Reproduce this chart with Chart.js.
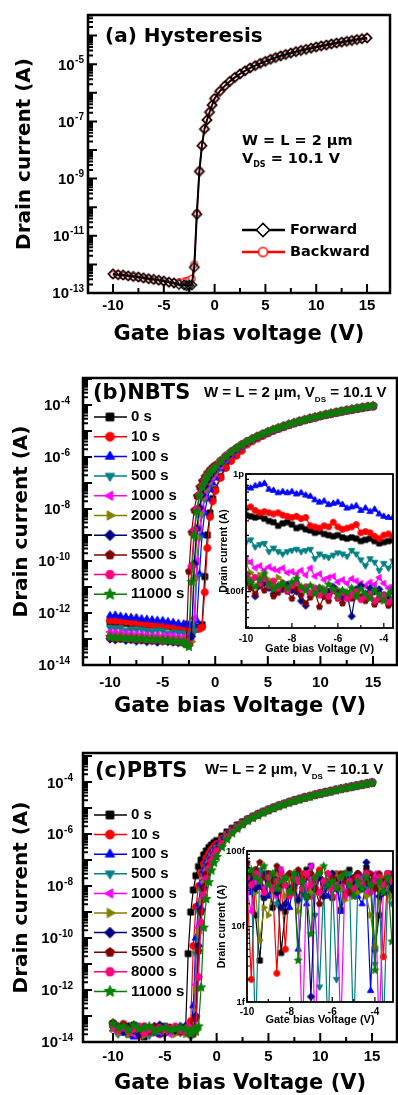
<!DOCTYPE html>
<html>
<head>
<meta charset="utf-8">
<script src="https://cdn.jsdelivr.net/npm/chart.js"></script>
<style>
html, body { margin: 0; padding: 0; background: #fff; }
body { width: 398px; height: 1095px; position: relative; overflow: hidden; }
canvas { position: absolute; }
</style>
</head>
<body>
<canvas id="hyst" width="398" height="350" style="left:0;top:0"></canvas>
<canvas id="nbts" width="398" height="370" style="left:0;top:350px"></canvas>
<canvas id="pbts" width="398" height="375" style="left:0;top:720px"></canvas>
<canvas id="nbtsInset" width="193" height="200" style="left:205px;top:460px"></canvas>
<canvas id="pbtsInset" width="193" height="195" style="left:205px;top:835px"></canvas>
<script>
// gate voltage sweep used by the three big panels (V)
const gateV = [-10,-9.5,-9,-8.5,-8,-7.5,-7,-6.5,-6,-5.5,-5,-4.5,-4,-3.5,
  -3,-2.75,-2.5,-2.25,-2,-1.75,-1.5,-1.25,-1,-0.75,-0.5,-0.25,0,0.5,1,1.5,2,2.5,
  3,3.5,4,4.5,5,5.5,6,6.5,7,7.5,8,8.5,9,9.5,10,10.5,11,11.5,12,12.5,13,13.5,14,14.5,15];

// drain current, stored as log10(I / A)
// (a) hysteresis
const hystForward = [-12.33,-12.36,-12.37,-12.40,-12.42,-12.44,-12.47,-12.50,-12.52,-12.55,-12.58,-12.62,-12.65,-12.70,
  -12.72,-12.74,-12.73,-12.72,-12.10,-10.25,-8.75,-7.85,-7.27,-6.95,-6.68,-6.43,-6.20,-5.95,-5.76,-5.60,-5.46,-5.34,
  -5.23,-5.13,-5.05,-4.97,-4.90,-4.83,-4.77,-4.71,-4.66,-4.61,-4.56,-4.52,-4.48,-4.44,-4.40,-4.36,-4.33,-4.29,-4.26,-4.23,-4.20,-4.17,-4.14,-4.11,-4.08];
const hystBackward = [-12.36,-12.35,-12.40,-12.41,-12.44,-12.45,-12.49,-12.50,-12.55,-12.56,-12.60,-12.62,-12.64,-12.62,
  -12.60,-12.58,-12.55,-12.50,-12.00,-10.20,-8.72,-7.83,-7.25,-6.93,-6.66,-6.41,-6.18,-5.94,-5.75,-5.59,-5.45,-5.33,
  -5.22,-5.12,-5.04,-4.96,-4.89,-4.82,-4.76,-4.70,-4.65,-4.60,-4.56,-4.51,-4.47,-4.43,-4.39,-4.36,-4.32,-4.29,-4.26,-4.22,-4.19,-4.16,-4.13,-4.11,-4.08];

const stressTimes = ['0 s','10 s','100 s','500 s','1000 s','2000 s','3500 s','5500 s','8000 s','11000 s'];

// (b) NBTS
const nbts0s = [-12.35,-12.37,-12.36,-12.40,-12.42,-12.41,-12.45,-12.47,-12.46,-12.50,-12.52,-12.51,-12.55,-12.57,
  -12.58,-12.60,-12.59,-12.61,-12.60,-12.58,-12.55,-12.45,-10.60,-9.00,-8.15,-7.60,-7.25,-6.75,-6.38,-6.10,-5.90,-5.70,
  -5.47,-5.35,-5.25,-5.15,-5.06,-4.97,-4.90,-4.83,-4.76,-4.70,-4.63,-4.58,-4.52,-4.47,-4.42,-4.38,-4.33,-4.29,-4.24,-4.21,-4.17,-4.14,-4.10,-4.07,-4.04];
const nbts10s = [-12.29,-12.30,-12.32,-12.33,-12.36,-12.37,-12.40,-12.42,-12.45,-12.44,-12.47,-12.50,-12.52,-12.55,
  -12.55,-12.57,-12.58,-12.60,-12.60,-12.62,-12.60,-12.55,-11.20,-9.50,-8.30,-7.70,-7.30,-6.80,-6.42,-6.15,-5.95,-5.76,
  -5.52,-5.40,-5.29,-5.19,-5.09,-5.00,-4.92,-4.84,-4.77,-4.70,-4.64,-4.58,-4.53,-4.48,-4.43,-4.38,-4.34,-4.29,-4.25,-4.21,-4.17,-4.14,-4.11,-4.07,-4.05];
const nbts100s = [-12.10,-12.08,-12.12,-12.15,-12.17,-12.18,-12.22,-12.24,-12.26,-12.28,-12.29,-12.33,-12.36,-12.40,
  -12.42,-12.44,-12.45,-12.47,-12.45,-12.30,-10.50,-9.00,-8.15,-7.60,-7.25,-7.00,-6.80,-6.45,-6.15,-5.93,-5.75,-5.60,
  -5.43,-5.32,-5.22,-5.13,-5.04,-4.96,-4.89,-4.82,-4.75,-4.69,-4.63,-4.57,-4.52,-4.47,-4.42,-4.37,-4.33,-4.28,-4.24,-4.20,-4.17,-4.13,-4.10,-4.07,-4.04];
const nbts500s = [-12.56,-12.58,-12.57,-12.67,-12.62,-12.64,-12.63,-12.68,-12.70,-12.66,-12.68,-12.78,-12.74,-12.76,
  -12.77,-12.80,-12.82,-12.85,-12.70,-10.60,-9.10,-8.20,-7.60,-7.25,-7.00,-6.80,-6.65,-6.37,-6.10,-5.90,-5.73,-5.58,
  -5.43,-5.32,-5.22,-5.13,-5.04,-4.96,-4.89,-4.82,-4.75,-4.69,-4.63,-4.57,-4.52,-4.47,-4.42,-4.37,-4.33,-4.28,-4.24,-4.20,-4.17,-4.13,-4.10,-4.07,-4.04];
const nbts1000s = [-12.73,-12.75,-12.76,-12.79,-12.80,-12.82,-12.83,-12.85,-12.87,-12.86,-12.88,-12.87,-12.88,-12.92,
  -12.93,-12.95,-12.98,-13.00,-12.20,-10.00,-8.75,-8.00,-7.50,-7.15,-6.92,-6.74,-6.60,-6.33,-6.07,-5.88,-5.71,-5.57,
  -5.43,-5.32,-5.22,-5.13,-5.04,-4.96,-4.89,-4.82,-4.75,-4.69,-4.63,-4.57,-4.52,-4.47,-4.42,-4.37,-4.33,-4.28,-4.24,-4.20,-4.17,-4.13,-4.10,-4.07,-4.04];
const nbts2000s = [-12.88,-12.92,-12.90,-12.95,-12.93,-12.97,-12.96,-13.00,-12.98,-13.02,-13.00,-13.04,-13.03,-13.05,
  -13.06,-13.08,-13.10,-13.10,-10.70,-9.10,-8.20,-7.60,-7.25,-7.00,-6.80,-6.65,-6.52,-6.28,-6.04,-5.86,-5.70,-5.56,
  -5.43,-5.32,-5.22,-5.13,-5.04,-4.96,-4.89,-4.82,-4.75,-4.69,-4.63,-4.57,-4.52,-4.47,-4.42,-4.37,-4.33,-4.28,-4.24,-4.20,-4.17,-4.13,-4.10,-4.07,-4.04];
const nbts3500s = [-13.00,-13.03,-12.98,-13.05,-13.02,-13.08,-13.04,-13.10,-13.06,-13.12,-13.08,-13.10,-13.12,-13.14,
  -13.15,-13.18,-13.20,-12.90,-10.10,-8.75,-7.95,-7.45,-7.12,-6.90,-6.72,-6.58,-6.46,-6.24,-6.02,-5.85,-5.69,-5.55,
  -5.43,-5.32,-5.22,-5.13,-5.04,-4.96,-4.89,-4.82,-4.75,-4.69,-4.63,-4.57,-4.52,-4.47,-4.42,-4.37,-4.33,-4.28,-4.24,-4.20,-4.17,-4.13,-4.10,-4.07,-4.04];
const nbts5500s = [-12.95,-12.98,-13.00,-12.97,-13.02,-13.00,-13.05,-13.03,-13.07,-13.05,-13.08,-13.06,-13.10,-13.12,
  -13.14,-13.20,-10.40,-8.90,-8.05,-7.50,-7.15,-6.92,-6.75,-6.60,-6.48,-6.38,-6.30,-6.12,-5.94,-5.78,-5.64,-5.51,
  -5.40,-5.30,-5.20,-5.11,-5.03,-4.95,-4.88,-4.81,-4.75,-4.68,-4.62,-4.57,-4.51,-4.46,-4.41,-4.37,-4.32,-4.28,-4.24,-4.20,-4.16,-4.13,-4.09,-4.06,-4.03];
const nbts8000s = [-12.90,-12.93,-12.92,-12.96,-12.95,-12.99,-12.97,-13.00,-13.02,-13.01,-13.05,-13.04,-13.06,-13.08,
  -13.10,-13.15,-13.20,-10.20,-8.80,-8.00,-7.45,-7.12,-6.90,-6.72,-6.58,-6.47,-6.38,-6.17,-5.97,-5.80,-5.66,-5.53,
  -5.40,-5.30,-5.20,-5.11,-5.03,-4.95,-4.88,-4.81,-4.75,-4.68,-4.62,-4.57,-4.51,-4.46,-4.41,-4.37,-4.32,-4.28,-4.24,-4.20,-4.16,-4.13,-4.09,-4.06,-4.03];
const nbts11000s = [-12.92,-12.95,-12.94,-12.98,-12.97,-13.00,-12.99,-13.02,-13.01,-13.04,-13.03,-13.06,-13.07,-13.09,
  -13.12,-13.20,-13.30,-10.80,-9.00,-8.10,-7.50,-7.15,-6.92,-6.74,-6.60,-6.48,-6.38,-6.18,-5.98,-5.81,-5.67,-5.54,
  -5.41,-5.31,-5.21,-5.12,-5.03,-4.95,-4.88,-4.81,-4.75,-4.68,-4.62,-4.57,-4.51,-4.46,-4.41,-4.37,-4.32,-4.28,-4.24,-4.20,-4.16,-4.13,-4.09,-4.06,-4.03];

// (c) PBTS
const pbts0s = [-13.30,-13.60,-13.40,-13.70,-13.35,-13.55,-13.80,-13.45,-13.50,-13.65,-13.40,-13.60,-13.50,-13.55,
  -13.60,-10.60,-9.00,-8.15,-7.60,-7.25,-7.00,-6.80,-6.65,-6.52,-6.42,-6.33,-6.25,-6.08,-5.92,-5.78,-5.65,-5.53,
  -5.42,-5.32,-5.22,-5.13,-5.05,-4.97,-4.90,-4.83,-4.76,-4.70,-4.64,-4.58,-4.53,-4.48,-4.43,-4.38,-4.34,-4.29,-4.25,-4.21,-4.17,-4.13,-4.09,-4.05,-4.01];
const pbts10s = [-13.40,-13.55,-13.30,-13.60,-13.50,-13.75,-13.40,-13.60,-13.45,-13.70,-13.50,-13.45,-13.60,-13.50,
  -13.50,-13.60,-13.20,-10.30,-8.80,-8.00,-7.50,-7.15,-6.92,-6.75,-6.60,-6.48,-6.38,-6.18,-5.99,-5.83,-5.69,-5.56,
  -5.45,-5.34,-5.24,-5.15,-5.07,-4.99,-4.91,-4.84,-4.77,-4.71,-4.65,-4.59,-4.54,-4.49,-4.44,-4.39,-4.35,-4.30,-4.26,-4.22,-4.18,-4.14,-4.10,-4.06,-4.02];
const pbts100s = [-13.50,-13.40,-13.65,-13.50,-13.80,-13.45,-13.60,-13.55,-13.40,-13.70,-13.55,-13.50,-13.45,-13.60,
  -13.40,-13.70,-13.60,-12.60,-10.00,-8.70,-7.90,-7.40,-7.08,-6.86,-6.70,-6.56,-6.45,-6.23,-6.02,-5.85,-5.70,-5.57,
  -5.45,-5.34,-5.24,-5.15,-5.07,-4.99,-4.91,-4.84,-4.77,-4.71,-4.65,-4.59,-4.54,-4.49,-4.44,-4.39,-4.35,-4.30,-4.26,-4.22,-4.18,-4.14,-4.10,-4.06,-4.02];
const pbts500s = [-13.45,-13.70,-13.50,-13.60,-13.40,-13.65,-13.55,-13.75,-13.50,-13.45,-13.70,-13.60,-13.55,-13.65,
  -13.60,-13.50,-13.80,-13.40,-10.60,-9.00,-8.15,-7.60,-7.25,-7.00,-6.80,-6.65,-6.52,-6.28,-6.05,-5.87,-5.72,-5.58,
  -5.45,-5.34,-5.24,-5.15,-5.07,-4.99,-4.91,-4.84,-4.77,-4.71,-4.65,-4.59,-4.54,-4.49,-4.44,-4.39,-4.35,-4.30,-4.26,-4.22,-4.18,-4.14,-4.10,-4.06,-4.02];
const pbts1000s = [-13.35,-13.60,-13.50,-13.45,-13.70,-13.55,-13.40,-13.65,-13.50,-13.60,-13.45,-13.70,-13.55,-13.50,
  -13.50,-13.70,-13.60,-13.50,-11.80,-9.60,-8.50,-7.85,-7.40,-7.10,-6.88,-6.70,-6.57,-6.31,-6.07,-5.89,-5.73,-5.59,
  -5.45,-5.34,-5.24,-5.15,-5.07,-4.99,-4.91,-4.84,-4.77,-4.71,-4.65,-4.59,-4.54,-4.49,-4.44,-4.39,-4.35,-4.30,-4.26,-4.22,-4.18,-4.14,-4.10,-4.06,-4.02];
const pbts2000s = [-13.50,-13.65,-13.55,-13.70,-13.45,-13.60,-13.75,-13.50,-13.65,-13.55,-13.60,-13.50,-13.70,-13.60,
  -13.70,-13.60,-13.50,-13.60,-12.00,-9.80,-8.60,-7.90,-7.45,-7.13,-6.90,-6.72,-6.58,-6.32,-6.08,-5.89,-5.73,-5.59,
  -5.45,-5.34,-5.24,-5.15,-5.07,-4.99,-4.91,-4.84,-4.77,-4.71,-4.65,-4.59,-4.54,-4.49,-4.44,-4.39,-4.35,-4.30,-4.26,-4.22,-4.18,-4.14,-4.10,-4.06,-4.02];
const pbts3500s = [-13.30,-13.50,-13.60,-13.40,-13.55,-13.70,-13.45,-13.50,-13.60,-13.35,-13.65,-13.50,-13.55,-13.40,
  -13.40,-13.50,-13.70,-13.60,-13.00,-10.30,-8.90,-8.05,-7.55,-7.20,-6.95,-6.76,-6.61,-6.34,-6.09,-5.90,-5.74,-5.60,
  -5.45,-5.34,-5.24,-5.15,-5.07,-4.99,-4.91,-4.84,-4.77,-4.71,-4.65,-4.59,-4.54,-4.49,-4.44,-4.39,-4.35,-4.30,-4.26,-4.22,-4.18,-4.14,-4.10,-4.06,-4.02];
const pbts5500s = [-13.25,-13.45,-13.35,-13.50,-13.40,-13.55,-13.45,-13.60,-13.40,-13.50,-13.55,-13.45,-13.50,-13.60,
  -13.50,-13.60,-13.40,-13.70,-13.10,-10.50,-9.00,-8.10,-7.58,-7.22,-6.97,-6.78,-6.62,-6.35,-6.10,-5.90,-5.74,-5.60,
  -5.45,-5.34,-5.24,-5.15,-5.07,-4.99,-4.91,-4.84,-4.77,-4.71,-4.65,-4.59,-4.54,-4.49,-4.44,-4.39,-4.35,-4.30,-4.26,-4.22,-4.18,-4.14,-4.10,-4.06,-4.02];
const pbts8000s = [-13.40,-13.55,-13.45,-13.60,-13.50,-13.40,-13.65,-13.50,-13.55,-13.45,-13.60,-13.50,-13.40,-13.55,
  -13.60,-13.40,-13.60,-13.50,-13.50,-11.50,-9.40,-8.35,-7.72,-7.32,-7.04,-6.83,-6.66,-6.38,-6.12,-5.92,-5.75,-5.61,
  -5.47,-5.36,-5.26,-5.16,-5.08,-5.00,-4.92,-4.85,-4.78,-4.72,-4.66,-4.60,-4.55,-4.50,-4.45,-4.40,-4.36,-4.31,-4.27,-4.23,-4.19,-4.15,-4.11,-4.07,-4.03];
const pbts11000s = [-13.30,-13.45,-13.40,-13.55,-13.35,-13.50,-13.45,-13.40,-13.60,-13.50,-13.45,-13.55,-13.50,-13.45,
  -13.50,-13.60,-13.70,-13.50,-13.60,-13.40,-11.90,-9.60,-8.50,-7.85,-7.40,-7.10,-6.88,-6.50,-6.20,-5.97,-5.79,-5.63,
  -5.49,-5.38,-5.28,-5.18,-5.09,-5.01,-4.93,-4.86,-4.79,-4.73,-4.67,-4.61,-4.56,-4.50,-4.46,-4.41,-4.36,-4.32,-4.27,-4.23,-4.19,-4.15,-4.11,-4.07,-4.03];

// insets: off-state current, -10 V to -3.2 V
const insetV = [-10,-9.8,-9.6,-9.4,-9.2,-9,-8.8,-8.6,-8.4,-8.2,-8,-7.8,-7.6,-7.4,-7.2,-7,-6.8,-6.6,-6.4,-6.2,
  -6,-5.8,-5.6,-5.4,-5.2,-5,-4.8,-4.6,-4.4,-4.2,-4,-3.8,-3.6,-3.4,-3.2];

const nbtsInset0s = [-12.35,-12.36,-12.37,-12.36,-12.38,-12.40,-12.41,-12.44,-12.42,-12.41,-12.43,-12.46,-12.45,-12.47,-12.48,-12.50,-12.49,-12.51,-12.52,-12.53,-12.52,-12.54,-12.55,-12.54,-12.55,-12.57,-12.56,-12.55,-12.57,-12.59,-12.58,-12.57,-12.56,-12.57,-12.58];
const nbtsInset10s = [-12.29,-12.28,-12.31,-12.33,-12.32,-12.33,-12.34,-12.33,-12.35,-12.36,-12.37,-12.36,-12.38,-12.37,-12.44,-12.45,-12.46,-12.44,-12.45,-12.41,-12.45,-12.47,-12.46,-12.45,-12.43,-12.50,-12.49,-12.50,-12.53,-12.55,-12.52,-12.51,-12.53,-12.55,-12.58];
const nbtsInset100s = [-12.11,-12.12,-12.10,-12.09,-12.08,-12.13,-12.14,-12.16,-12.15,-12.16,-12.15,-12.17,-12.16,-12.18,-12.19,-12.22,-12.24,-12.23,-12.26,-12.25,-12.24,-12.26,-12.29,-12.28,-12.27,-12.31,-12.29,-12.32,-12.30,-12.34,-12.36,-12.37,-12.37,-12.38,-12.41];
const nbtsInset500s = [-12.58,-12.56,-12.62,-12.60,-12.59,-12.66,-12.63,-12.66,-12.68,-12.66,-12.65,-12.64,-12.66,-12.65,-12.64,-12.72,-12.68,-12.70,-12.71,-12.69,-12.67,-12.68,-12.70,-12.65,-12.68,-12.73,-12.78,-12.72,-12.75,-12.82,-12.76,-12.80,-12.74,-12.80,-12.76];
const nbtsInset1000s = [-12.72,-12.75,-12.80,-12.78,-12.82,-12.79,-12.81,-12.82,-12.80,-12.84,-12.83,-12.85,-12.82,-12.86,-12.80,-12.87,-12.85,-12.90,-12.88,-12.87,-12.92,-12.90,-12.93,-12.89,-12.91,-12.93,-12.95,-12.92,-12.94,-12.88,-12.93,-12.97,-12.95,-12.98,-12.99];
const nbtsInset2000s = [-12.76,-12.84,-12.88,-12.86,-12.92,-12.90,-12.95,-12.88,-12.92,-12.99,-12.94,-12.97,-12.96,-12.99,-13.02,-12.98,-13.01,-12.97,-13.03,-13.00,-12.98,-13.04,-13.02,-13.00,-13.05,-13.03,-13.06,-13.02,-13.08,-13.04,-13.07,-13.05,-13.10,-13.06,-13.12];
const nbtsInset3500s = [-12.85,-12.92,-13.04,-12.95,-12.93,-12.97,-13.02,-12.96,-12.98,-12.94,-12.99,-13.00,-13.08,-13.12,-13.02,-13.00,-12.97,-13.04,-13.00,-12.96,-13.01,-13.05,-13.02,-13.21,-12.98,-12.95,-13.02,-12.97,-13.00,-12.98,-13.03,-13.05,-13.00,-13.02,-12.97];
const nbtsInset5500s = [-12.93,-12.97,-13.02,-12.95,-12.99,-12.94,-13.04,-13.01,-12.96,-13.00,-13.06,-12.98,-13.03,-13.10,-13.05,-13.00,-13.13,-13.04,-13.08,-12.99,-13.06,-13.10,-13.02,-13.06,-13.00,-13.05,-13.08,-13.03,-13.11,-13.07,-13.05,-13.12,-13.08,-13.15,-13.10];
const nbtsInset8000s = [-12.86,-12.90,-12.88,-12.93,-12.89,-12.95,-12.91,-12.97,-12.93,-12.99,-12.95,-12.92,-12.98,-12.96,-13.01,-12.97,-13.03,-13.00,-13.04,-12.99,-13.05,-13.01,-13.06,-13.03,-13.00,-13.07,-13.04,-13.02,-13.08,-13.05,-13.03,-13.09,-13.06,-13.10,-13.13];
const nbtsInset11000s = [-12.88,-12.92,-12.96,-12.90,-12.85,-12.94,-12.98,-12.95,-12.93,-12.97,-12.92,-12.89,-12.96,-12.99,-12.95,-13.02,-12.97,-13.00,-12.94,-12.98,-13.03,-12.99,-13.01,-12.97,-13.04,-12.98,-13.02,-13.06,-12.99,-13.03,-13.08,-13.02,-12.98,-13.04,-13.06];

const pbtsInset0s = [-13.35,-13.50,-13.85,-14.45,-13.62,-13.30,-13.75,-13.28,-14.35,-13.80,-13.35,-13.45,-13.30,-13.55,-13.25,-13.20,-13.42,-13.28,-13.50,-13.40,-13.62,-13.35,-13.78,-13.30,-13.25,-13.45,-13.52,-13.35,-13.22,-13.40,-14.30,-13.85,-13.45,-13.30,-13.55];
const pbtsInset10s = [-13.40,-14.70,-13.25,-13.30,-13.50,-13.35,-13.45,-14.62,-13.40,-14.30,-13.30,-13.55,-13.40,-13.30,-13.50,-13.60,-13.35,-13.25,-13.45,-13.40,-13.60,-13.30,-13.50,-13.35,-13.42,-13.55,-13.30,-13.40,-13.28,-13.50,-13.35,-13.45,-14.40,-13.30,-13.40];
const pbtsInset100s = [-13.45,-13.55,-13.35,-13.48,-13.30,-13.60,-13.40,-13.50,-13.25,-13.45,-13.75,-13.35,-14.30,-13.55,-13.70,-13.40,-13.40,-13.35,-13.50,-13.60,-13.30,-13.45,-13.80,-13.55,-13.35,-13.40,-13.60,-13.70,-13.45,-14.85,-13.40,-13.50,-13.55,-13.35,-13.45];
const pbtsInset500s = [-13.20,-13.30,-15.50,-13.25,-13.60,-13.40,-13.30,-13.70,-13.45,-13.35,-13.55,-13.40,-13.30,-13.50,-13.65,-13.40,-13.85,-14.80,-13.45,-15.50,-13.35,-14.70,-13.50,-13.40,-13.30,-15.50,-13.45,-13.35,-13.50,-13.40,-14.50,-13.35,-15.40,-13.50,-13.70];
const pbtsInset1000s = [-13.55,-13.80,-13.40,-13.35,-13.50,-13.45,-13.30,-13.60,-13.25,-13.70,-13.35,-13.50,-13.60,-15.50,-13.30,-13.20,-15.60,-13.55,-13.40,-13.45,-13.35,-13.50,-15.40,-13.30,-13.45,-13.60,-13.35,-13.40,-13.55,-13.50,-13.30,-15.50,-13.45,-13.50,-13.35];
const pbtsInset2000s = [-13.30,-13.45,-13.55,-14.18,-13.75,-13.85,-13.50,-13.30,-13.45,-13.60,-13.35,-13.50,-13.80,-13.40,-13.30,-13.55,-13.45,-13.35,-13.60,-13.50,-13.40,-13.30,-13.50,-13.65,-13.40,-13.35,-13.55,-13.45,-13.60,-13.85,-14.27,-13.50,-13.35,-13.45,-13.60];
const pbtsInset3500s = [-13.40,-13.35,-13.50,-13.45,-13.60,-13.40,-13.35,-13.55,-13.75,-13.70,-13.50,-13.45,-13.65,-13.40,-13.60,-14.93,-13.50,-13.35,-13.60,-13.45,-13.30,-13.50,-13.40,-13.35,-13.55,-13.40,-13.30,-13.50,-13.15,-13.45,-13.40,-13.60,-13.55,-13.40,-13.50];
const pbtsInset5500s = [-13.15,-13.30,-13.25,-13.15,-13.35,-13.30,-13.40,-13.20,-13.45,-13.35,-13.30,-13.50,-13.25,-13.40,-13.35,-13.30,-13.50,-13.70,-13.40,-13.30,-13.35,-13.45,-13.30,-13.40,-13.55,-13.35,-13.30,-13.45,-13.40,-13.30,-13.50,-13.30,-13.40,-13.35,-13.30];
const pbtsInset8000s = [-13.35,-13.45,-13.30,-13.40,-13.55,-13.35,-13.50,-13.40,-13.30,-13.45,-13.60,-13.35,-13.40,-13.50,-13.30,-13.45,-13.35,-13.55,-13.40,-13.30,-13.50,-13.45,-13.35,-13.60,-13.40,-13.50,-13.35,-13.45,-13.30,-13.55,-13.40,-13.35,-13.45,-13.30,-13.40];
const pbtsInset11000s = [-13.30,-13.25,-13.35,-13.40,-13.20,-13.45,-13.30,-13.50,-13.40,-13.35,-13.55,-13.30,-14.45,-13.40,-13.60,-14.10,-13.35,-13.30,-13.20,-13.45,-13.40,-13.50,-13.35,-13.30,-13.45,-13.60,-13.40,-13.50,-13.35,-13.45,-14.58,-13.40,-13.55,-13.35,-14.20];

// tick labels
const xTickValues = [-10, -5, 0, 5, 10, 15];
const hystYLabelExp = [-5, -7, -9, -11, -13];
const biasYLabelExp = [-4, -6, -8, -10, -12, -14];
const insetXTickValues = [-10, -8, -6, -4];
const nbtsInsetYTicks = [1e-12, 1e-13];
const nbtsInsetYLabels = ['1p', '100f'];
const pbtsInsetYTicks = [1e-13, 1e-14, 1e-15];
const pbtsInsetYLabels = ['100f', '10f', '1f'];

// styles
const seriesColors = ['#000000','#ff0000','#0000ff','#008080','#ff00ff','#808000','#000080','#800000','#ff0080','#008000'];
const seriesShapes = ['square','circle','triUp','triDown','triLeft','triRight','diamond','pentagon','hexagon','star'];
const ARIAL = '"Liberation Sans", Arial, sans-serif';
const DEJA = '"DejaVu Sans", sans-serif';

function marker(shape, color, r, fill, lw) {
  const s = Math.ceil(2.8 * r + 4);
  const c = document.createElement('canvas');
  c.width = s; c.height = s;
  const g = c.getContext('2d');
  g.translate(s / 2, s / 2);
  g.beginPath();
  const poly = (n, R, a0, inner) => {
    const k = inner ? 2 * n : n;
    for (let i = 0; i < k; i++) {
      const rr = inner && i % 2 ? R * inner : R;
      const a = (a0 + i * 360 / k) * Math.PI / 180;
      if (i) g.lineTo(rr * Math.cos(a), rr * Math.sin(a)); else g.moveTo(rr * Math.cos(a), rr * Math.sin(a));
    }
    g.closePath();
  };
  switch (shape) {
    case 'square': g.rect(-r * 0.85, -r * 0.85, r * 1.7, r * 1.7); break;
    case 'circle': g.arc(0, 0, r, 0, Math.PI * 2); break;
    case 'triUp': poly(3, r * 1.2, -90); break;
    case 'triDown': poly(3, r * 1.2, 90); break;
    case 'triLeft': poly(3, r * 1.2, 180); break;
    case 'triRight': poly(3, r * 1.2, 0); break;
    case 'diamond': poly(4, r * 1.2, -90); break;
    case 'pentagon': poly(5, r * 1.05, -90); break;
    case 'hexagon': poly(6, r * 1.05, 0); break;
    case 'star': poly(5, r * 1.35, -90, 0.45); break;
  }
  g.fillStyle = fill || color;
  g.fill();
  g.strokeStyle = color;
  g.lineWidth = lw || 1;
  g.stroke();
  return c;
}

const pts = (xs, ys) => ys.map((e, i) => ({ x: xs[i], y: 10 ** e }));

function stressSets(xs, list, r, lw) {
  return list.map((ys, i) => ({
    label: stressTimes[i],
    data: pts(xs, ys),
    borderColor: seriesColors[i],
    backgroundColor: seriesColors[i],
    borderWidth: lw,
    pointStyle: marker(seriesShapes[i], seriesColors[i], r),
    pointRadius: r,
    fill: false,
    tension: 0,
    order: list.length - 1 - i
  }));
}

function stressLegend(y0, dy) {
  return {
    items: stressTimes.map((t, i) => ({ label: t, color: seriesColors[i], img: marker(seriesShapes[i], seriesColors[i], 4.5) })),
    x1: 94, x2: 127, xm: 110, xt: 131, y0, dy, lineWidth: 1.5, font: 'bold 15px ' + ARIAL
  };
}

const decor = {
  id: 'decor',
  beforeDraw(chart, args, o) {
    if (!o.white) return;
    const a = chart.chartArea, c = chart.ctx;
    c.save();
    c.fillStyle = '#fff';
    c.fillRect(a.left, a.top, a.right - a.left, a.bottom - a.top);
    c.restore();
  },
  afterDraw(chart, args, o) {
    const c = chart.ctx, a = chart.chartArea, xs = chart.scales.x, ys = chart.scales.y;
    c.save();
    c.strokeStyle = '#000';
    c.lineWidth = o.tickWidth;
    c.beginPath();
    const xt = (vals, len) => vals.forEach(v => {
      if (v < xs.min || v > xs.max) return;
      const p = xs.getPixelForValue(v);
      c.moveTo(p, a.bottom); c.lineTo(p, a.bottom - len);
    });
    xt(o.xMajor, o.majorLen);
    xt(o.xMinor, o.minorLen);
    const lo = Math.floor(Math.log10(ys.min)), hi = Math.ceil(Math.log10(ys.max));
    for (let d = lo; d <= hi; d++) {
      for (let m = 1; m <= 9; m++) {
        const v = m * 10 ** d;
        if (v < ys.min * 0.999 || v > ys.max * 1.001) continue;
        const p = ys.getPixelForValue(v);
        c.moveTo(a.left, p); c.lineTo(a.left + (m === 1 ? o.majorLen : o.minorLen), p);
      }
    }
    c.stroke();
    c.lineWidth = o.frameWidth;
    c.strokeRect(a.left, a.top, a.right - a.left, a.bottom - a.top);

    c.fillStyle = '#000';
    c.textAlign = 'left';
    if (o.yLabelExp) {
      c.textBaseline = 'alphabetic';
      o.yLabelExp.forEach(e => {
        const p = ys.getPixelForValue(10 ** e);
        const sup = String(e);
        c.font = o.supFont; const ws = c.measureText(sup).width;
        c.font = o.baseFont; const wb = c.measureText('10').width;
        const x0 = o.yLabelRight - ws - wb - 0.5;
        c.fillText('10', x0, p + o.baseDy);
        c.font = o.supFont;
        c.fillText(sup, x0 + wb + 0.5, p + o.supDy);
      });
    }
    if (o.legend) {
      const L = o.legend;
      L.items.forEach((it, i) => {
        const y = L.y0 + i * L.dy;
        c.strokeStyle = it.color; c.lineWidth = L.lineWidth;
        c.beginPath(); c.moveTo(L.x1, y); c.lineTo(L.x2, y); c.stroke();
        c.drawImage(it.img, L.xm - it.img.width / 2, y - it.img.height / 2);
        c.fillStyle = '#000'; c.font = L.font; c.textBaseline = 'middle';
        c.fillText(it.label, L.xt, y);
      });
    }
    c.textBaseline = 'middle';
    (o.texts || []).forEach(tx => {
      let x = tx.x;
      tx.parts.forEach(pt => {
        c.font = pt.font;
        c.fillText(pt.t, x, tx.y + (pt.dy || 0));
        x += c.measureText(pt.t).width;
      });
    });
    c.restore();
  }
};

const tickFont = { family: ARIAL, weight: 'bold', size: 15 };
const xTitleFont = { family: DEJA, weight: 'bold', size: 21, lineHeight: 1 };
const yTitleFont = { family: DEJA, weight: 'bold', size: 20, lineHeight: 1 };
const noGrid = { display: false, drawTicks: false };

function mainChart(id, cfg) {
  return new Chart(document.getElementById(id), {
    type: 'line',
    data: { datasets: cfg.datasets },
    options: {
      responsive: false, animation: false, events: [],
      layout: { autoPadding: false, padding: { left: 0, right: cfg.right, top: cfg.top, bottom: 0 } },
      plugins: { legend: { display: false }, tooltip: { enabled: false }, decor: cfg.decor },
      scales: {
        x: {
          type: 'linear', min: cfg.xMin, max: cfg.xMax,
          afterBuildTicks: s => { s.ticks = xTickValues.map(v => ({ value: v })); },
          afterFit: s => { s.height = cfg.xHeight; },
          grid: noGrid, border: { display: false },
          ticks: { color: '#000', font: tickFont, padding: cfg.xTickPad, maxRotation: 0, callback: v => String(v) },
          title: { display: true, text: cfg.xTitle, color: '#000', font: xTitleFont, padding: { top: 0, bottom: cfg.xTitlePad } }
        },
        y: {
          type: 'logarithmic', min: 10 ** cfg.yMinExp, max: 10 ** cfg.yMaxExp,
          afterFit: s => { s.width = cfg.yWidth; },
          grid: noGrid, border: { display: false },
          ticks: { display: false },
          title: { display: true, text: 'Drain current (A)', color: '#000', font: yTitleFont, padding: { top: cfg.yTitlePad, bottom: 0 } }
        }
      }
    },
    plugins: [decor]
  });
}

function insetChart(id, cfg) {
  const f = { family: ARIAL, weight: 'bold', size: 10 };
  return new Chart(document.getElementById(id), {
    type: 'line',
    data: { datasets: cfg.datasets },
    options: {
      responsive: false, animation: false, events: [],
      layout: { autoPadding: false, padding: { left: 0, right: cfg.right, top: cfg.top, bottom: 0 } },
      plugins: { legend: { display: false }, tooltip: { enabled: false },
        decor: { white: true, frameWidth: 1.8, tickWidth: 1.2, majorLen: 5, minorLen: 3,
          xMajor: insetXTickValues, xMinor: [-9, -7, -5, -3] } },
      scales: {
        x: {
          type: 'linear', min: -10, max: cfg.xMax,
          afterBuildTicks: s => { s.ticks = insetXTickValues.map(v => ({ value: v })); },
          afterFit: s => { s.height = cfg.xHeight; },
          grid: noGrid, border: { display: false },
          ticks: { color: '#000', font: f, padding: cfg.xTickPad, maxRotation: 0, callback: v => String(v) },
          title: { display: true, text: 'Gate bias Voltage (V)', color: '#000',
            font: { family: ARIAL, weight: 'bold', size: 11, lineHeight: 1 }, padding: { top: 0, bottom: cfg.xTitlePad } }
        },
        y: {
          type: 'logarithmic', min: cfg.yMin, max: cfg.yMax,
          afterBuildTicks: s => { s.ticks = cfg.yTicks.map(v => ({ value: v })); },
          afterFit: s => { s.width = cfg.yWidth; },
          grid: noGrid, border: { display: false },
          ticks: { color: '#000', font: { family: ARIAL, weight: 'bold', size: 9.5 }, padding: 2,
            callback: (v, i) => cfg.yLabels[i] },
          title: { display: true, text: 'Drain current (A)', color: '#000',
            font: { family: ARIAL, weight: 'bold', size: 10.5, lineHeight: 1 }, padding: { top: cfg.yTitlePad, bottom: 0 } }
        }
      }
    },
    plugins: [decor]
  });
}

const mainDecor = {
  frameWidth: 2.5, tickWidth: 2, majorLen: 9, minorLen: 5,
  xMajor: xTickValues, xMinor: [-7.5, -2.5, 2.5, 7.5, 12.5],
  baseFont: 'bold 15px ' + ARIAL, supFont: 'bold 10px ' + ARIAL, baseDy: 5.4, supDy: -1.5
};

// (a)
mainChart('hyst', {
  datasets: [
    { label: 'Forward', data: pts(gateV, hystForward), borderColor: '#000', borderWidth: 2,
      pointStyle: marker('diamond', '#000', 4, 'rgba(0,0,0,0)', 1.4), pointRadius: 4, fill: false, order: 0 },
    { label: 'Backward', data: pts(gateV, hystBackward), borderColor: '#ff0000', borderWidth: 1.5,
      pointStyle: marker('circle', '#ff0000', 3.3, '#fff', 1.3), pointRadius: 3.3, fill: false, order: 1 }
  ],
  right: 8, top: 15, yWidth: 88, xHeight: 57,
  xMin: -12.46, xMax: 17.26, yMinExp: -13, yMaxExp: -3.28,
  xTickPad: 4, xTitle: 'Gate bias voltage (V)', xTitlePad: 4.5, yTitlePad: 15,
  decor: Object.assign({}, mainDecor, {
    yLabelExp: hystYLabelExp, yLabelRight: 84,
    legend: {
      items: [
        { label: 'Forward', color: '#000', img: marker('diamond', '#000', 5.5, '#fff', 1.5) },
        { label: 'Backward', color: '#ff0000', img: marker('circle', '#ff0000', 4.5, '#fff', 1.5) }
      ],
      x1: 242, x2: 285, xm: 263, xt: 290, y0: 230, dy: 22, lineWidth: 2.5, font: 'bold 14.5px ' + DEJA
    },
    texts: [
      { x: 105, y: 37, parts: [{ t: '(a) Hysteresis', font: 'bold 20px ' + DEJA }] },
      { x: 242, y: 141, parts: [{ t: 'W = L = 2 \u03bcm', font: 'bold 14.5px ' + DEJA }] },
      { x: 242, y: 159, parts: [{ t: 'V', font: 'bold 14.5px ' + DEJA }, { t: 'DS', font: 'bold 8px ' + DEJA, dy: 6 },
        { t: ' = 10.1 V', font: 'bold 14.5px ' + DEJA }] }
    ]
  })
});

// (b)
mainChart('nbts', {
  datasets: stressSets(gateV, [nbts0s, nbts10s, nbts100s, nbts500s, nbts1000s, nbts2000s, nbts3500s, nbts5500s, nbts8000s, nbts11000s], 3.5, 1.2),
  right: 1, top: 28, yWidth: 83, xHeight: 55,
  xMin: -12.57, xMax: 17.28, yMinExp: -14, yMaxExp: -2.96,
  xTickPad: 9, xTitle: 'Gate bias Voltage (V)', xTitlePad: 2.5, yTitlePad: 12,
  decor: Object.assign({}, mainDecor, {
    yLabelExp: biasYLabelExp, yLabelRight: 70,
    legend: stressLegend(67, 19.7),
    texts: [
      { x: 93, y: 44, parts: [{ t: '(b)NBTS', font: 'bold 21px ' + DEJA }] },
      { x: 204, y: 43, parts: [{ t: 'W = L = 2 \u03bcm, V', font: 'bold 15px ' + ARIAL }, { t: 'DS', font: 'bold 8px ' + ARIAL, dy: 7 },
        { t: ' = 10.1 V', font: 'bold 15px ' + ARIAL }] }
    ]
  })
});

// (c)
mainChart('pbts', {
  datasets: stressSets(gateV, [pbts0s, pbts10s, pbts100s, pbts500s, pbts1000s, pbts2000s, pbts3500s, pbts5500s, pbts8000s, pbts11000s], 3.5, 1.2),
  right: 1, top: 33, yWidth: 83, xHeight: 53,
  xMin: -12.9, xMax: 17.41, yMinExp: -14, yMaxExp: -2.88,
  xTickPad: 6, xTitle: 'Gate bias Voltage (V)', xTitlePad: 0.5, yTitlePad: 12,
  decor: Object.assign({}, mainDecor, {
    yLabelExp: biasYLabelExp, yLabelRight: 73,
    legend: stressLegend(95, 19.6),
    texts: [
      { x: 95, y: 52, parts: [{ t: '(c)PBTS', font: 'bold 21px ' + DEJA }] },
      { x: 205, y: 50, parts: [{ t: 'W= L = 2 \u03bcm, V', font: 'bold 15px ' + ARIAL }, { t: 'DS', font: 'bold 8px ' + ARIAL, dy: 7 },
        { t: ' = 10.1 V', font: 'bold 15px ' + ARIAL }] }
    ]
  })
});

// insets
insetChart('nbtsInset', {
  datasets: stressSets(insetV, [nbtsInset0s, nbtsInset10s, nbtsInset100s, nbtsInset500s, nbtsInset1000s, nbtsInset2000s,
    nbtsInset3500s, nbtsInset5500s, nbtsInset8000s, nbtsInset11000s], 3, 1.2),
  right: 5, top: 14, yWidth: 41, xHeight: 32, xMax: -3.6,
  yMin: 10 ** -13.31, yMax: 1e-12, yTicks: nbtsInsetYTicks, yLabels: nbtsInsetYLabels,
  xTickPad: 5, xTitlePad: 5.5, yTitlePad: 13.5
});
insetChart('pbtsInset', {
  datasets: stressSets(insetV, [pbtsInset0s, pbtsInset10s, pbtsInset100s, pbtsInset500s, pbtsInset1000s, pbtsInset2000s,
    pbtsInset3500s, pbtsInset5500s, pbtsInset8000s, pbtsInset11000s], 3, 1.2),
  right: 5, top: 16, yWidth: 42, xHeight: 28, xMax: -3.15,
  yMin: 1e-15, yMax: 1e-13, yTicks: pbtsInsetYTicks, yLabels: pbtsInsetYLabels,
  xTickPad: 4, xTitlePad: 4.5, yTitlePad: 11.75
});
</script>
</body>
</html>
